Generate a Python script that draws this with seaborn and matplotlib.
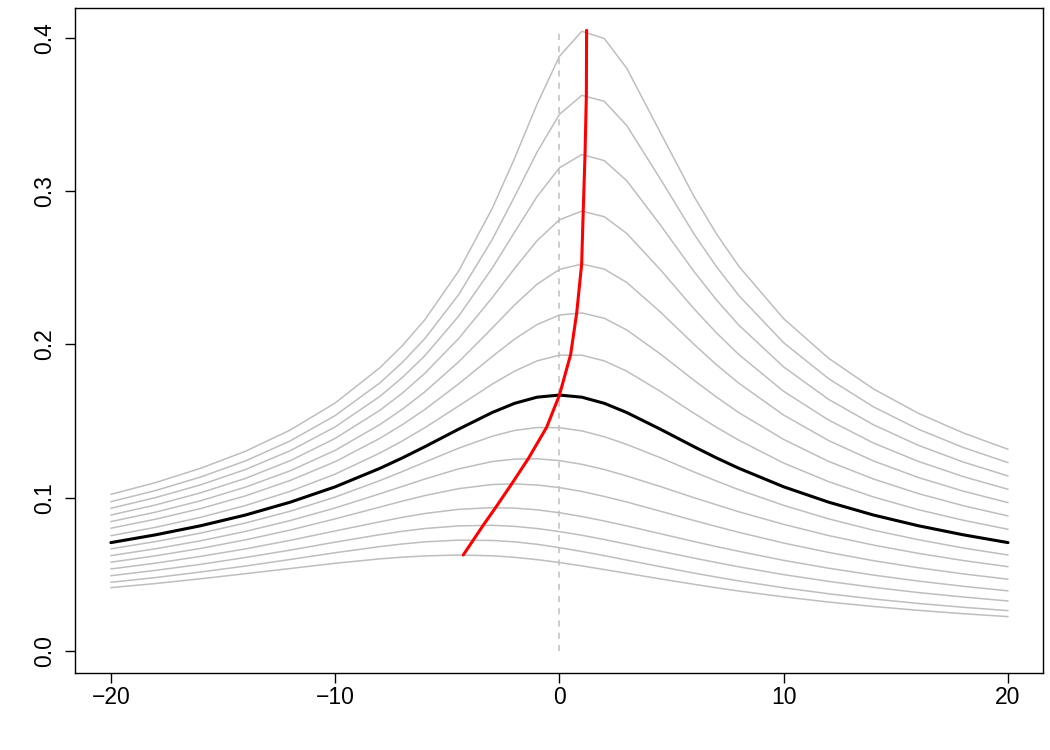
import matplotlib
matplotlib.use("Agg")
import matplotlib.pyplot as plt
import pandas as pd
import seaborn as sns

# x positions where the curves were read
x_grid = [-20, -18, -16, -14, -12, -10, -8, -7, -6, -4.5, -3, -2, -1, 0, 1, 2, 3, 4.5, 6, 7, 8, 10, 12, 14, 16, 18, 20]

# grey curves above the black one (top to bottom)
c1 = [.1022, .1099, .1192, .1303, .1442, .1618, .1849, .1993, .2162, .2478, .2887, .3215, .3568, .3881, .4044, .3997, .3803, .3383, .2966, .2722, .2510, .2168, .1910, .1710, .1551, .1423, .1316]
c2 = [.0974, .1047, .1135, .1240, .1371, .1536, .1750, .1884, .2039, .2324, .2684, .2965, .3255, .3502, .3626, .3587, .3429, .3080, .2721, .2508, .2319, .2011, .1777, .1593, .1447, .1328, .1229]
c3 = [.0931, .1001, .1084, .1184, .1307, .1462, .1662, .1785, .1927, .2184, .2498, .2733, .2965, .3153, .3240, .3200, .3069, .2780, .2476, .2291, .2126, .1853, .1642, .1476, .1342, .1233, .1142]
c4 = [.0887, .0953, .1032, .1126, .1242, .1387, .1571, .1683, .1812, .2038, .2305, .2497, .2677, .2814, .2870, .2834, .2725, .2488, .2233, .2076, .1934, .1694, .1507, .1357, .1237, .1138, .1055]
c5 = [.0844, .0906, .0980, .1069, .1176, .1309, .1478, .1578, .1691, .1886, .2107, .2258, .2393, .2490, .2525, .2492, .2405, .2212, .2001, .1868, .1747, .1539, .1373, .1240, .1132, .1043, .0968]
c6 = [.0801, .0860, .0929, .1012, .1113, .1235, .1388, .1477, .1576, .1742, .1921, .2035, .2130, .2192, .2206, .2171, .2095, .1938, .1766, .1657, .1555, .1380, .1237, .1122, .1027, .0948, .0881]
c7 = [.0752, .0807, .0872, .0949, .1042, .1154, .1292, .1371, .1457, .1598, .1741, .1826, .1893, .1930, .1930, .1893, .1826, .1694, .1551, .1460, .1375, .1226, .1105, .1005, .0922, .0853, .0794]
# black reference curve
black = [.0707, .0758, .0817, .0887, .0971, .1071, .1192, .1260, .1333, .1447, .1556, .1616, .1656, .1670, .1656, .1616, .1556, .1447, .1333, .1260, .1192, .1071, .0971, .0887, .0817, .0758, .0707]
# grey curves below the black one
c9 = [.0666, .0714, .0769, .0835, .0912, .1004, .1112, .1171, .1232, .1323, .1401, .1439, .1458, .1457, .1436, .1398, .1348, .1261, .1168, .1109, .1052, .0950, .0862, .0788, .0726, .0672, .0626]
c10 = [.0622, .0667, .0719, .0780, .0851, .0933, .1026, .1074, .1122, .1188, .1236, .1252, .1254, .1242, .1218, .1184, .1142, .1073, .1000, .0954, .0908, .0826, .0753, .0691, .0637, .0590, .0550]
c11 = [.0579, .0621, .0669, .0725, .0789, .0862, .0939, .0978, .1014, .1059, .1086, .1090, .1083, .1066, .1041, .1008, .0972, .0912, .0851, .0812, .0774, .0704, .0643, .0589, .0543, .0503, .0468]
c12 = [.0535, .0573, .0617, .0666, .0722, .0783, .0843, .0872, .0897, .0924, .0935, .0932, .0921, .0902, .0877, .0848, .0816, .0765, .0714, .0681, .0650, .0591, .0540, .0495, .0456, .0422, .0392]
c13 = [.0491, .0526, .0565, .0610, .0658, .0710, .0759, .0781, .0799, .0816, .0820, .0813, .0799, .0779, .0755, .0727, .0697, .0651, .0606, .0577, .0549, .0498, .0454, .0415, .0381, .0352, .0326]
c14 = [.0448, .0479, .0515, .0554, .0597, .0641, .0681, .0698, .0712, .0723, .0721, .0712, .0696, .0674, .0649, .0622, .0593, .0550, .0508, .0482, .0457, .0412, .0373, .0339, .0310, .0285, .0263]
c15 = [.0413, .0440, .0471, .0504, .0538, .0572, .0601, .0612, .0620, .0626, .0621, .0611, .0596, .0577, .0555, .0531, .0507, .0470, .0435, .0412, .0391, .0353, .0319, .0290, .0265, .0243, .0224]

grey_curves = [c1, c2, c3, c4, c5, c6, c7, c9, c10, c11, c12, c13, c14, c15]

# red line through the peaks of the curves (bottom to top)
peak_x = [-4.29, -3.84, -3.40, -2.85, -2.13, -1.39, -0.57, 0.0, 0.50, 0.77, 0.99, 1.06, 1.14, 1.20, 1.21]
peak_y = [.0626, .0724, .0820, .0935, .1090, .1255, .1460, .1670, .1935, .2207, .2525, .2870, .3240, .3630, .4050]

rows = []
for i, c in enumerate(grey_curves):
    assert len(c) == len(x_grid)
    for xv, yv in zip(x_grid, c):
        rows.append({"curve": i, "x": xv, "y": yv})
grey_df = pd.DataFrame(rows)
black_df = pd.DataFrame({"x": x_grid, "y": black})
red_df = pd.DataFrame({"x": peak_x, "y": peak_y})

sns.set_style("ticks")
plt.rcParams["font.family"] = ["Liberation Sans", "DejaVu Sans"]

fig = plt.figure(figsize=(10.5, 7.5), dpi=100)
ax = fig.add_axes([75 / 1050, 1 - 673 / 750, (1043 - 75) / 1050, (673 - 8) / 750])

sns.lineplot(data=grey_df, x="x", y="y", units="curve", estimator=None,
             color="#bebebe", linewidth=1.1, ax=ax)
ax.plot([0, 0], [0, max(peak_y)], color="#bebebe", linestyle=(0, (4, 4)), linewidth=1.1)
sns.lineplot(data=black_df, x="x", y="y", color="black", linewidth=2.2, ax=ax)
sns.lineplot(data=red_df, x="x", y="y", sort=False, estimator=None,
             color="red", linewidth=2.2, ax=ax)

ax.set_xlim(-21.6, 21.56)
ax.set_ylim(-0.0144, 0.4196)
ax.set_xticks([-20, -10, 0, 10, 20])
ax.set_yticks([0.0, 0.1, 0.2, 0.3, 0.4])
ax.set_yticklabels(["0.0", "0.1", "0.2", "0.3", "0.4"], rotation=90, va="center")
ax.set_xlabel("")
ax.set_ylabel("")
ax.tick_params(direction="out", length=7.5, width=1, labelsize=16.5,
               color="black", labelcolor="black")
ax.tick_params(axis="x", pad=2)
ax.tick_params(axis="y", pad=6)
for s in ax.spines.values():
    s.set_visible(True)
    s.set_color("black")
    s.set_linewidth(1)

fig.savefig("out.png", dpi=100)
